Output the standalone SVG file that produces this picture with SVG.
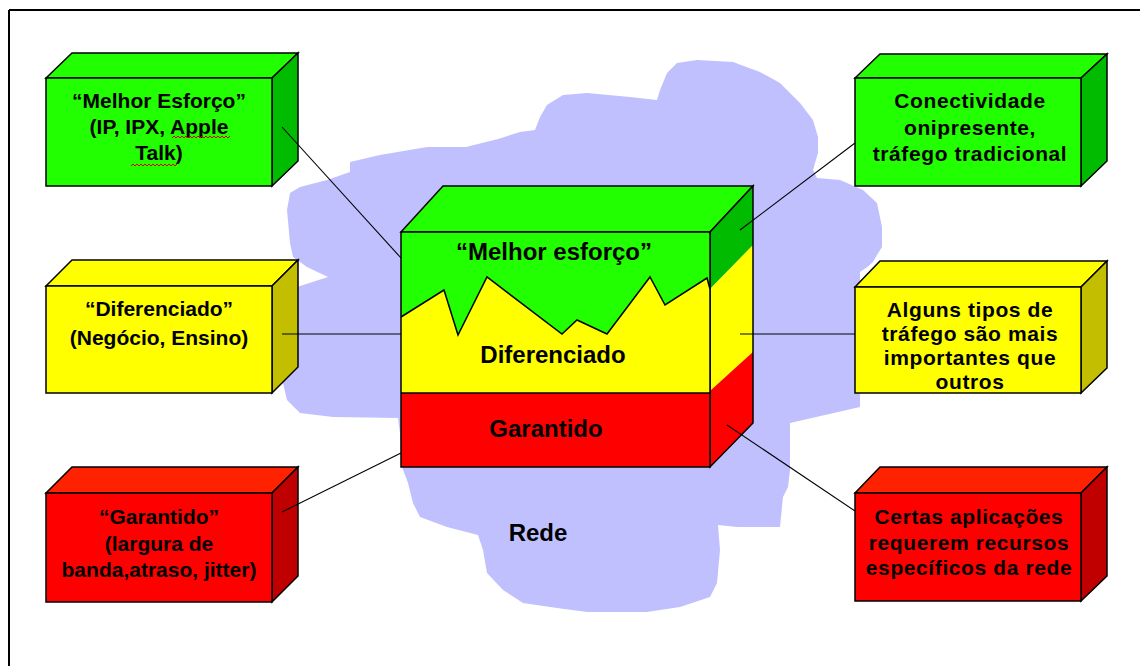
<svg xmlns="http://www.w3.org/2000/svg" width="1140" height="666" viewBox="0 0 1140 666">
  <style>
    .edge { stroke: #000; stroke-width: 1.5; stroke-linejoin: miter; }
    .g-front { fill: #22ff00; }
    .g-top { fill: #22ff00; }
    .g-side { fill: #00bb00; }
    .y-front { fill: #ffff00; }
    .y-top { fill: #ffff00; }
    .y-side { fill: #c4be00; }
    .r-front { fill: #ff0000; }
    .r-top { fill: #ff2200; }
    .r-side { fill: #c00000; }
    .lbl { font-family: "Liberation Sans", Arial, sans-serif; font-weight: bold; font-size: 21px; fill: #000; text-anchor: middle; }
    .big { font-size: 24px; }
    .wide { letter-spacing: 0.6px; }
    .conn { stroke: #000; stroke-width: 1.1; fill: none; }
    .squiggle { stroke: #e00000; stroke-width: 1; fill: none; }
  </style>

  <rect width="1140" height="666" fill="#fff"/>

  <!-- frame -->
  <g id="frame">
    <line x1="9" y1="10" x2="1140" y2="10" stroke="#000" stroke-width="2"/>
    <line x1="9" y1="10" x2="9" y2="666" stroke="#000" stroke-width="2"/>
  </g>

  <!-- network cloud -->
  <g id="cloud">
    <path fill="#c0c0ff" d="M350,162 L380,155 L427,147 L466,147 L498,139 L520,132 L535,130 L540,117 L547,105 L563,95 L587,93 L630,97 L657,100 L660,90 L667,73 L677,63 L697,60 L733,62 L760,72 L780,83 L800,103 L813,120 L818,137 L818,153 L813,170 L817,178 L840,180 L863,190 L877,203 L882,227 L882,247 L877,255 L873,262 L866,268 L860,272 L860,407 L790,423 L790,470 L788,487 L783,497 L780,527 L737,527 L718,525 L720,550 L717,583 L710,597 L680,607 L647,612 L587,612 L557,608 L523,603 L503,590 L487,573 L483,550 L478,535 L447,527 L420,517 L413,503 L408,483 L402,467 L400,433 L398,418 L333,417 L300,413 L287,400 L283,383 L283,300 L297,287 L328,277 L307,267 L293,257 L290,243 L287,210 L290,193 L300,187 L327,180 L350,172 Z"/>
    <text class="lbl big" x="538" y="541">Rede</text>
  </g>

  <!-- left column -->
  <g id="best-effort-left">
    <polygon class="g-top edge" points="46,78 72,53 298,53 272,78"/>
    <polygon class="g-side edge" points="272,78 298,53 298,161 272,186"/>
    <rect class="g-front edge" x="46" y="78" width="226" height="108"/>
    <text class="lbl" x="159" y="108">“Melhor Esforço”</text>
    <text class="lbl" x="159" y="134">(IP, IPX, Apple</text>
    <text class="lbl" x="159" y="160">Talk)</text>
    <path class="squiggle" d="M172,138 l2,-2 l2,2 l2,-2 l2,2 l2,-2 l2,2 l2,-2 l2,2 l2,-2 l2,2 l2,-2 l2,2 l2,-2 l2,2 l2,-2 l2,2 l2,-2 l2,2 l2,-2 l2,2 l2,-2 l2,2 l2,-2 l2,2 l2,-2 l2,2 l2,-2 l2,2 l2,-2"/>
    <path class="squiggle" d="M131,166 l2,-2 l2,2 l2,-2 l2,2 l2,-2 l2,2 l2,-2 l2,2 l2,-2 l2,2 l2,-2 l2,2 l2,-2 l2,2 l2,-2 l2,2 l2,-2 l2,2 l2,-2 l2,2 l2,-2 l2,2 l2,-2"/>
  </g>

  <g id="differentiated-left">
    <polygon class="y-top edge" points="46,286 72,260 298,260 272,286"/>
    <polygon class="y-side edge" points="272,286 298,260 298,367 272,393"/>
    <rect class="y-front edge" x="46" y="286" width="226" height="107"/>
    <text class="lbl" x="159" y="316">“Diferenciado”</text>
    <text class="lbl" x="159" y="345">(Negócio, Ensino)</text>
  </g>

  <g id="guaranteed-left">
    <polygon class="r-top edge" points="46,493 72,467 298,467 272,493"/>
    <polygon class="r-side edge" points="272,493 298,467 298,576 272,602"/>
    <rect class="r-front edge" x="46" y="493" width="226" height="109"/>
    <text class="lbl" x="159" y="524">“Garantido”</text>
    <text class="lbl" x="159" y="551">(largura de</text>
    <text class="lbl" x="159" y="577">banda,atraso, jitter)</text>
  </g>

  <!-- right column -->
  <g id="best-effort-right">
    <polygon class="g-top edge" points="855,78 880,54 1107,54 1081,78"/>
    <polygon class="g-side edge" points="1081,78 1107,54 1107,161 1081,186"/>
    <rect class="g-front edge" x="855" y="78" width="226" height="108"/>
    <text class="lbl wide" x="970" y="108">Conectividade</text>
    <text class="lbl wide" x="970" y="135">onipresente,</text>
    <text class="lbl wide" x="970" y="161">tráfego tradicional</text>
  </g>

  <g id="differentiated-right">
    <polygon class="y-top edge" points="855,287 880,261 1107,261 1081,287"/>
    <polygon class="y-side edge" points="1081,287 1107,261 1107,368 1081,393"/>
    <rect class="y-front edge" x="855" y="287" width="226" height="106"/>
    <text class="lbl wide" x="970" y="317">Alguns tipos de</text>
    <text class="lbl wide" x="970" y="341">tráfego são mais</text>
    <text class="lbl wide" x="970" y="365">importantes que</text>
    <text class="lbl wide" x="970" y="389">outros</text>
  </g>

  <g id="guaranteed-right">
    <polygon class="r-top edge" points="855,493 880,467 1107,467 1081,493"/>
    <polygon class="r-side edge" points="1081,493 1107,467 1107,576 1081,601"/>
    <rect class="r-front edge" x="855" y="493" width="226" height="108"/>
    <text class="lbl wide" x="969" y="524">Certas aplicações</text>
    <text class="lbl wide" x="969" y="550">requerem recursos</text>
    <text class="lbl wide" x="969" y="575">específicos da rede</text>
  </g>

  <!-- central layered block -->
  <g id="service-layers">
    <polygon class="g-top edge" points="401,232 443,186 753,186 710,232"/>
    <polygon class="g-side" points="710,232 753,186 753,245 710,289"/>
    <polygon class="y-front" points="710,289 753,245 753,352 710,391"/>
    <polygon class="r-front" points="710,391 753,352 753,423 710,467"/>
    <polygon fill="none" class="edge" points="710,232 753,186 753,423 710,467"/>
    <rect class="y-front" x="401" y="232" width="309" height="161"/>
    <polygon class="g-front" points="401,232 710,232 710,289 707,278 665,305 650,277 607,334 577,320 562,334 487,277 458,335 444,290 401,317"/>
    <polyline class="edge" fill="none" points="401,317 444,290 458,335 487,277 562,334 577,320 607,334 650,277 665,305 707,278 710,289"/>
    <rect class="r-front" x="401" y="393" width="309" height="74"/>
    <line class="edge" x1="401" y1="393" x2="710" y2="393"/>
    <rect class="edge" fill="none" x="401" y="232" width="309" height="235"/>
    <text class="lbl big" x="554" y="260">“Melhor esforço”</text>
    <text class="lbl big" x="553" y="363">Diferenciado</text>
    <text class="lbl big" x="546" y="437">Garantido</text>
  </g>

  <!-- connectors -->
  <g id="connectors">
    <line class="conn" x1="282" y1="127" x2="401" y2="258"/>
    <line class="conn" x1="282" y1="334" x2="401" y2="334"/>
    <line class="conn" x1="282" y1="512" x2="401" y2="453"/>
    <line class="conn" x1="740" y1="230" x2="855" y2="143"/>
    <line class="conn" x1="740" y1="334" x2="855" y2="334"/>
    <line class="conn" x1="727" y1="425" x2="855" y2="511"/>
  </g>
</svg>
